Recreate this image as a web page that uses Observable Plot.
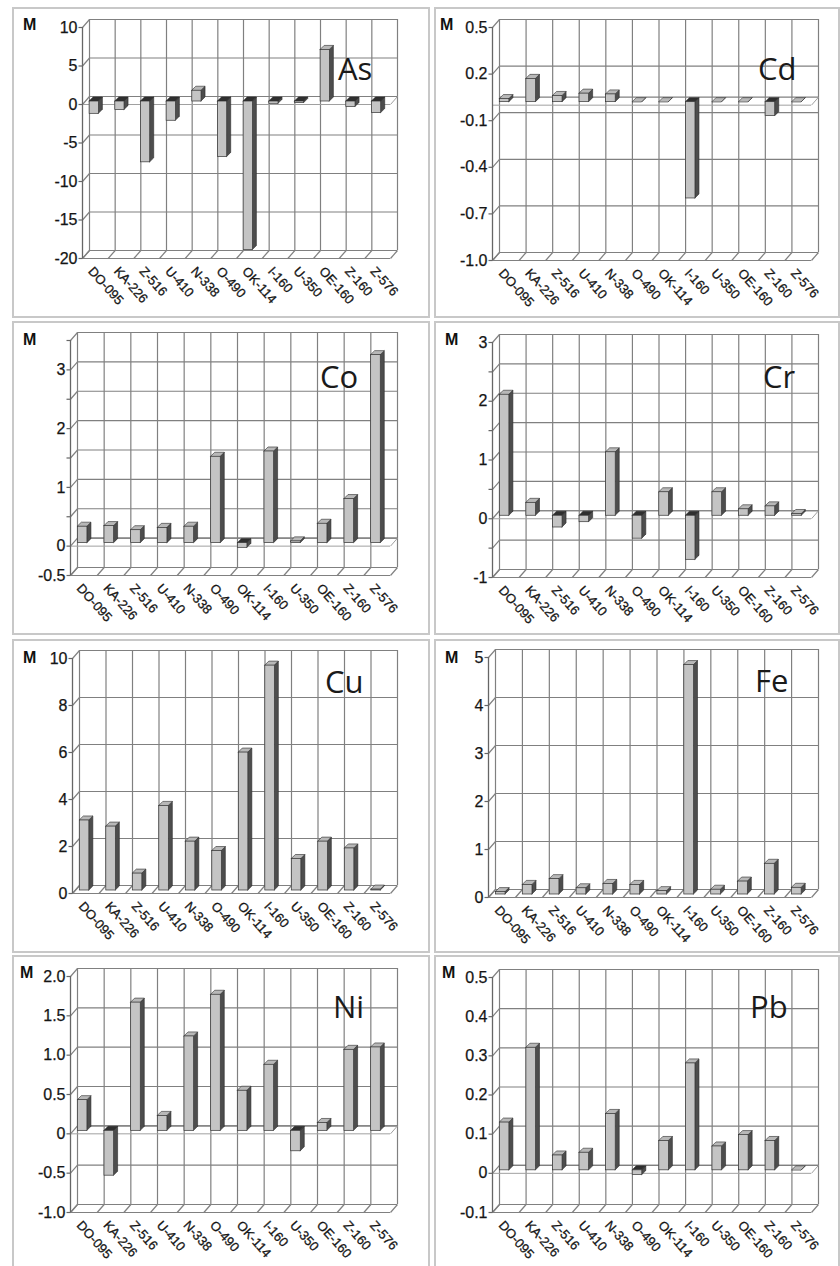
<!DOCTYPE html>
<html><head><meta charset="utf-8">
<script src="https://cdn.jsdelivr.net/npm/d3@7"></script>
<script src="https://cdn.jsdelivr.net/npm/@observablehq/plot@0.6"></script>
<style>
body{margin:0;background:#fff;width:840px;height:1266px;position:relative;overflow:hidden;font-family:"Liberation Sans",Arial,sans-serif;}
.cell{position:absolute;border:2px solid #c8c8c8;box-sizing:border-box;background:#fff;overflow:hidden;}
.cell .plotwrap{position:absolute;left:0;top:0;}
.cell svg.ov{position:absolute;left:0;top:0;pointer-events:none;overflow:visible;}
</style></head><body>
<script>
// ---- data ----
const categories = ["DO-095","KA-226","Z-516","U-410","N-338","O-490","OK-114","I-160","U-350","OE-160","Z-160","Z-576"];
const elements = ["As","Cd","Co","Cr","Cu","Fe","Ni","Pb"];
const axisTitle = "M";

const valuesAs = [-1.6, -1.1, -7.9, -2.5, 1.4, -7.2, -19.3, -0.3, -0.2, 6.7, -0.7, -1.5];
const valuesCd = [0.02, 0.15, 0.04, 0.055, 0.05, 0, 0, -0.62, 0, 0, -0.09, 0];
const valuesCo = [0.28, 0.29, 0.22, 0.26, 0.28, 1.47, -0.08, 1.56, 0.03, 0.33, 0.75, 3.2];
const valuesCr = [2.06, 0.22, -0.2, -0.11, 1.08, -0.39, 0.4, -0.75, 0.4, 0.11, 0.16, 0.03];
const valuesCu = [2.98, 2.72, 0.72, 3.6, 2.08, 1.68, 5.87, 9.57, 1.34, 2.08, 1.79, 0.04];
const valuesFe = [0.05, 0.2, 0.32, 0.13, 0.22, 0.2, 0.07, 4.78, 0.1, 0.27, 0.64, 0.14];
const valuesNi = [0.39, -0.57, 1.63, 0.19, 1.2, 1.73, 0.51, 0.84, -0.26, 0.1, 1.03, 1.06];
const valuesPb = [0.122, 0.313, 0.038, 0.045, 0.144, -0.012, 0.075, 0.273, 0.061, 0.09, 0.075, 0];

// gridline / tick values and their labels ("" = unlabeled tick)
const ticksAs = [-20, -15, -10, -5, 0, 5, 10];
const labelsAs = ["-20", "-15", "-10", "-5", "0", "5", "10"];
const ticksCd = [-1.0, -0.7, -0.4, -0.1, 0.2, 0.5];
const labelsCd = ["-1.0", "-0.7", "-0.4", "-0.1", "0.2", "0.5"];
const ticksCo = [-0.5, 0, 0.5, 1, 1.5, 2, 2.5, 3, 3.5];
const labelsCo = ["-0.5", "0", "", "1", "", "2", "", "3", ""];
const ticksCr = [-1, -0.5, 0, 0.5, 1, 1.5, 2, 2.5, 3];
const labelsCr = ["-1", "", "0", "", "1", "", "2", "", "3"];
const ticksCu = [0, 2, 4, 6, 8, 10];
const labelsCu = ["0", "2", "4", "6", "8", "10"];
const ticksFe = [0, 1, 2, 3, 4, 5];
const labelsFe = ["0", "1", "2", "3", "4", "5"];
const ticksNi = [-1.0, -0.5, 0, 0.5, 1.0, 1.5, 2.0];
const labelsNi = ["-1.0", "-0.5", "0", "0.5", "1.0", "1.5", "2.0"];
const ticksPb = [-0.1, 0, 0.1, 0.2, 0.3, 0.4, 0.5];
const labelsPb = ["-0.1", "0", "0.1", "0.2", "0.3", "0.4", "0.5"];

const panelValues = [valuesAs, valuesCd, valuesCo, valuesCr, valuesCu, valuesFe, valuesNi, valuesPb];
const panelTicks = [ticksAs, ticksCd, ticksCo, ticksCr, ticksCu, ticksFe, ticksNi, ticksPb];
const panelLabels = [labelsAs, labelsCd, labelsCo, labelsCr, labelsCu, labelsFe, labelsNi, labelsPb];

// ---- layout (pixels) ----
const colLeft = [12, 434], colWidth = [418, 406];
const rowTop = [7, 321, 639, 955], rowHeight = [311, 314, 314, 315];
const layout = [
  {mL: 68, top: 18, bottom: 249, m: [9, 21], n: [324, 71]},
  {mL: 56, top: 18, bottom: 251, m: [4, 21], n: [322, 71]},
  {mL: 56, top: 17, bottom: 252, m: [9, 22], n: [306, 65]},
  {mL: 56, top: 19, bottom: 254, m: [9, 22], n: [327, 65]},
  {mL: 58, top: 17, bottom: 252, m: [9, 22], n: [311, 52]},
  {mL: 52, top: 16, bottom: 256, m: [9, 22], n: [319, 51]},
  {mL: 56, top: 19, bottom: 255, m: [6, 21], n: [319, 61]},
  {mL: 56, top: 20, bottom: 255, m: [6, 21], n: [314, 61]}
];

const gridColor = "#808080";
const DX = 7, DY = 8;        // wall depth in px
const BDX = 4, BDY = 4;      // bar depth in px
const BOX = 2, BOY = -3;     // bar offset from front
const A = 0.2, B = 0.56;     // bar extent within a category
const Y_FONT = 16, X_FONT = 13;

elements.forEach((el, k) => {
  const col = k % 2, row = Math.floor(k / 2);
  const L = layout[k];
  const cell = document.createElement("div");
  cell.className = "cell";
  cell.style.left = colLeft[col] + "px";
  cell.style.top = rowTop[row] + "px";
  cell.style.width = colWidth[col] + "px";
  cell.style.height = rowHeight[row] + "px";
  document.body.appendChild(cell);

  const W = colWidth[col] - 4, H = 306;
  const frontRight = col === 0 ? 376 : 375;
  const mR = W - frontRight, mT = L.top, mB = H - L.bottom;
  const ticks = panelTicks[k], labels = panelLabels[k], vals = panelValues[k];
  const ymin = d3.min(ticks), ymax = d3.max(ticks);
  const pxX = (W - L.mL - mR) / 12, pxY = (H - mT - mB) / (ymax - ymin);
  const dxU = DX / pxX, dyU = DY / pxY;
  const bxU = BDX / pxX, byU = BDY / pxY;
  const tickU = 4 / pxX;

  const bars = vals.map((v, i) => ({i, v, lo: Math.min(0, v), hi: Math.max(0, v)}));
  const side = bars.flatMap(b => [
    {i: b.i, x: b.i + B, y1: b.lo, y2: b.hi},
    {i: b.i, x: b.i + B + bxU, y1: b.lo + byU, y2: b.hi + byU}
  ]);
  const top = bars.flatMap(b => [
    {i: b.i, v: b.v, y: b.hi, x1: b.i + A, x2: b.i + B},
    {i: b.i, v: b.v, y: b.hi + byU, x1: b.i + A + bxU, x2: b.i + B + bxU}
  ]);
  const bounds = d3.range(13);
  const yLab = ticks.map((t, i) => ({t, s: labels[i]})).filter(d => d.s !== "");
  const xLab = categories.map((c, i) => ({i, c}));

  const marks = [
    Plot.ruleY(ticks, {x1: 0, x2: 12, dx: DX, dy: -DY, stroke: gridColor, strokeWidth: 1.2}),
    Plot.ruleX(bounds, {y1: ymin, y2: ymax, dx: DX, dy: -DY, stroke: gridColor, strokeWidth: 1.2}),
    Plot.link(ticks, {x1: 0, y1: d => d, x2: dxU, y2: d => d + dyU, stroke: gridColor, strokeWidth: 1.2}),
    Plot.link(bounds, {x1: d => d, y1: ymin, x2: d => d + dxU, y2: ymin + dyU, stroke: gridColor, strokeWidth: 1.2}),
    Plot.ruleY([ymin], {x1: 0, x2: 12, stroke: gridColor, strokeWidth: 1.2}),
  ];
  if (ymin < 0) {
    marks.push(
      Plot.ruleY([0], {x1: 0, x2: 12, dx: DX, dy: -DY, stroke: gridColor, strokeWidth: 1.2}),
      Plot.ruleY([0], {x1: 0, x2: 12, stroke: "#a0a0a0", strokeWidth: 1}),
      Plot.link([0], {x1: 12, y1: 0, x2: 12 + dxU, y2: dyU, stroke: "#a0a0a0", strokeWidth: 1})
    );
  }
  marks.push(
    Plot.areaY(side, {x: "x", y1: "y1", y2: "y2", z: "i", fill: "#4d4d4d", stroke: "#2a2a2a", strokeWidth: 0.6, dx: BOX, dy: BOY}),
    Plot.areaX(top, {y: "y", x1: "x1", x2: "x2", z: "i", fill: d => d.v >= 0 ? "#b8b8b8" : "#2f2f2f", stroke: "#2a2a2a", strokeWidth: 0.6, dx: BOX, dy: BOY}),
    Plot.rectY(bars, {x1: d => d.i + A, x2: d => d.i + B, y1: "lo", y2: "hi", fill: "#c4c4c4", stroke: "#333", strokeWidth: 0.7, dx: BOX, dy: BOY}),
    Plot.ruleX([0], {y1: ymin, y2: ymax, stroke: "#666", strokeWidth: 1.3}),
    Plot.link(ticks, {x1: -tickU, x2: 0, y1: d => d, y2: d => d, stroke: "#666", strokeWidth: 1.2}),
    Plot.text(yLab, {x: 0, y: "t", text: "s", textAnchor: "end", dx: -5, fontSize: Y_FONT, fill: "#151515", stroke: "#151515", strokeWidth: 0.25}),
    Plot.text(xLab, {x: d => d.i + 0.5, y: ymin, text: "c", textAnchor: "start", lineAnchor: "top", rotate: 48, dx: -1, dy: 7, fontSize: X_FONT, fill: "#151515", stroke: "#151515", strokeWidth: 0.3})
  );

  const chart = Plot.plot({
    width: W, height: H,
    marginLeft: L.mL, marginRight: mR, marginTop: mT, marginBottom: mB,
    x: {domain: [0, 12], axis: null},
    y: {domain: [ymin, ymax], axis: null},
    style: {fontFamily: "Liberation Sans, Arial, sans-serif", background: "transparent", overflow: "visible"},
    marks
  });
  const catSet = new Set(categories);
  chart.querySelectorAll("text").forEach(t => {
    t.style.fontSize = (catSet.has(t.textContent) ? X_FONT : Y_FONT) + "px";
  });
  const wrap = document.createElement("div");
  wrap.className = "plotwrap";
  wrap.appendChild(chart);
  cell.appendChild(wrap);

  const ns = "http://www.w3.org/2000/svg";
  const ov = document.createElementNS(ns, "svg");
  ov.setAttribute("class", "ov");
  ov.setAttribute("width", W); ov.setAttribute("height", H);
  const m = document.createElementNS(ns, "text");
  m.setAttribute("x", L.m[0]); m.setAttribute("y", L.m[1]);
  m.setAttribute("font-family", "Liberation Sans, Arial, sans-serif");
  m.setAttribute("font-weight", "bold"); m.setAttribute("font-size", "16");
  m.setAttribute("fill", "#111");
  m.textContent = axisTitle;
  const t = document.createElementNS(ns, "text");
  t.setAttribute("x", L.n[0]); t.setAttribute("y", L.n[1]);
  t.setAttribute("font-family", "Open Sans, sans-serif");
  t.setAttribute("font-size", "31"); t.setAttribute("fill", "#1a1a1a");
  t.textContent = el;
  ov.appendChild(m); ov.appendChild(t);
  cell.appendChild(ov);
});
</script>
</body></html>
